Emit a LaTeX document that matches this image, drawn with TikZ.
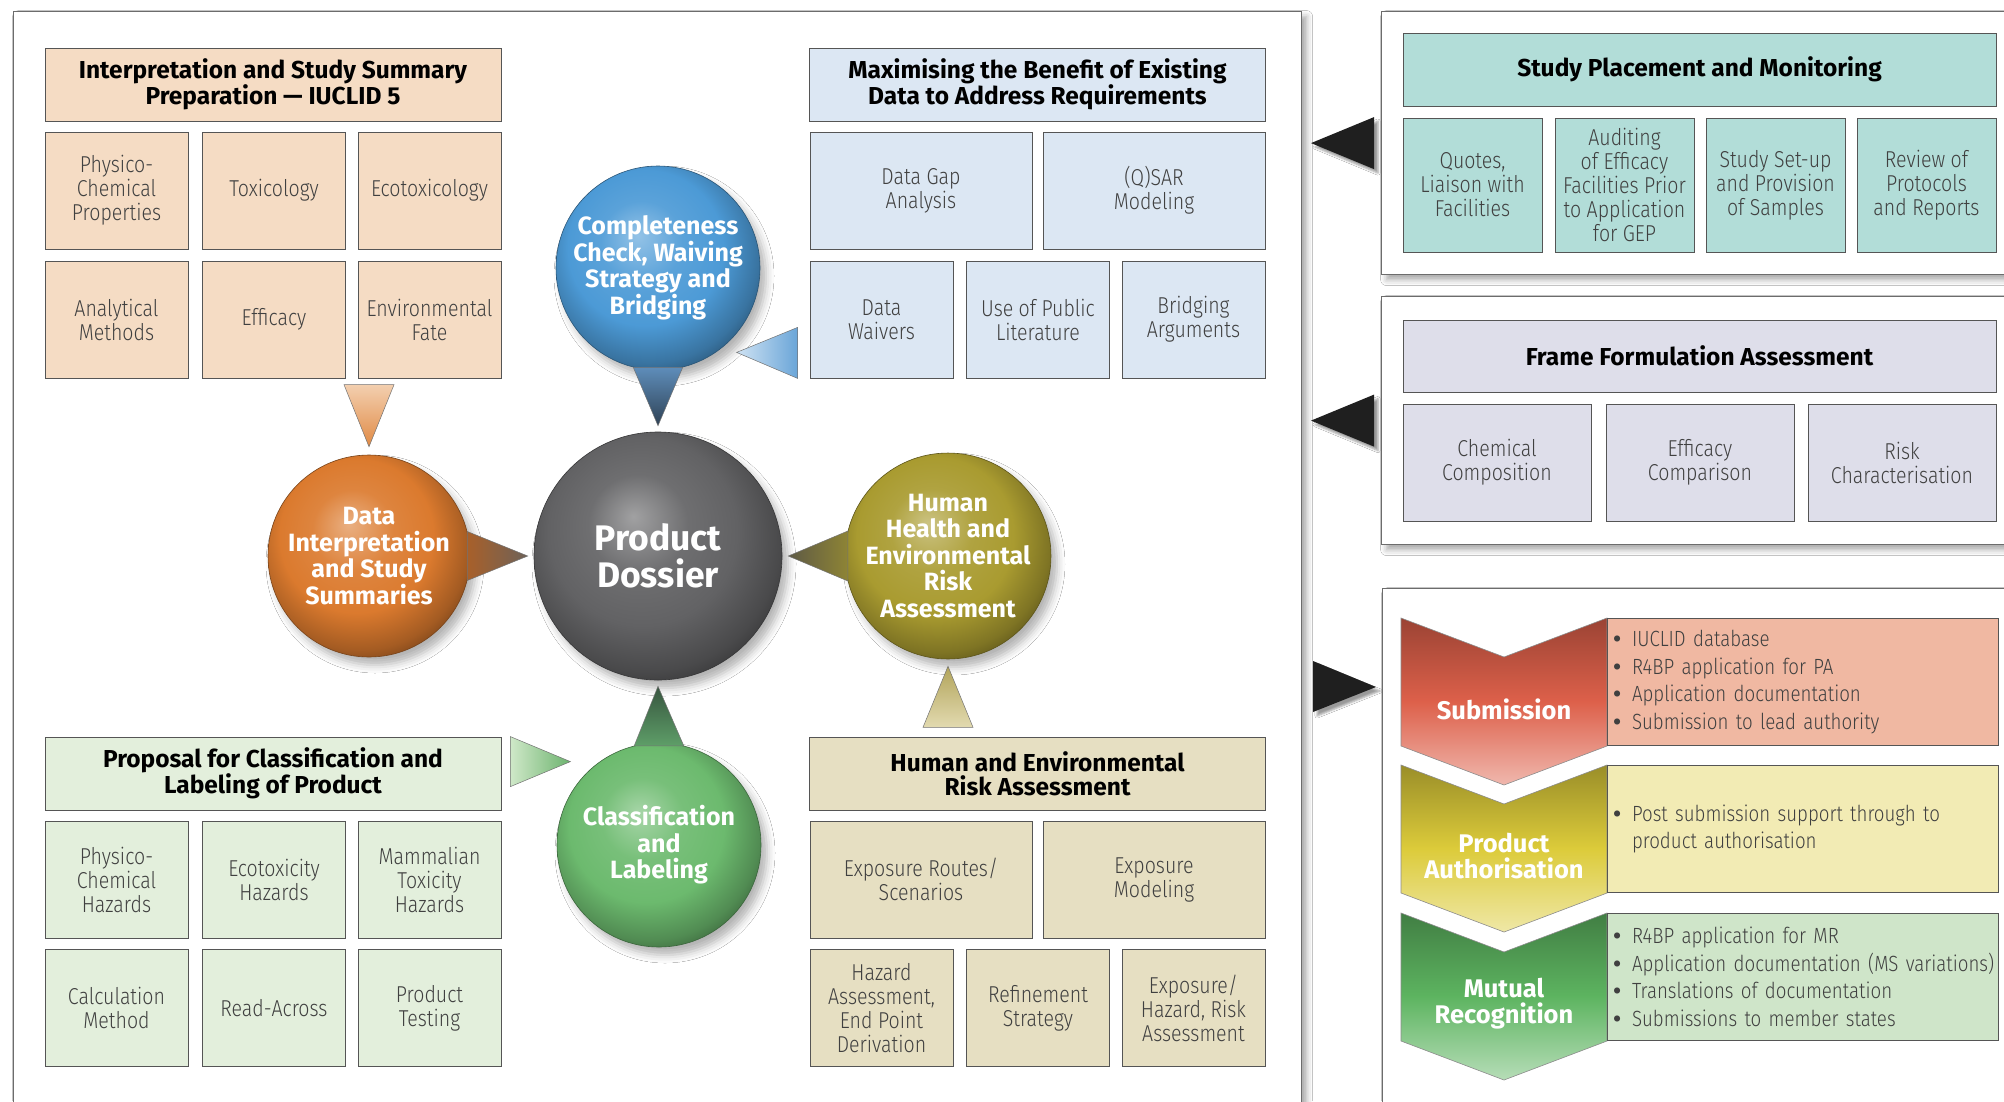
\documentclass[tikz,border=0pt]{standalone}
\usepackage{fontspec}
\setmainfont{Fira Sans}[UprightFont=* Light, BoldFont=* Bold, UprightFeatures={FakeStretch=0.85}]
\usepackage{xcolor}
\definecolor{peach}{HTML}{F5DCC4}
\definecolor{pale-blue}{HTML}{DCE7F3}
\definecolor{pale-green}{HTML}{E3EFDC}
\definecolor{khaki}{HTML}{E6DFC2}
\definecolor{teal-box}{HTML}{B2DDD8}
\definecolor{lavender-box}{HTML}{DEDEEA}
\definecolor{salmon-box}{HTML}{F0B8A2}
\definecolor{cream-box}{HTML}{F2EBB4}
\definecolor{mint-box}{HTML}{CFE5C9}
\definecolor{edge}{HTML}{555555}
\definecolor{ink}{HTML}{404040}
\definecolor{sphere-blue}{HTML}{4C9AD6}
\definecolor{sphere-orange}{HTML}{DB7A2E}
\definecolor{sphere-dark}{HTML}{626264}
\definecolor{sphere-olive}{HTML}{A99B30}
\definecolor{sphere-green}{HTML}{6CBA6E}
\definecolor{chev-red}{HTML}{DD604A}
\definecolor{chev-yellow}{HTML}{DCCB3A}
\definecolor{chev-green}{HTML}{5DB460}
\usetikzlibrary{calc,positioning,shadows.blur}
\makeatletter
\pgfdeclareradialshading[tikz@ball]{orb}{\pgfqpoint{-5bp}{8bp}}{%
    color(0bp)=(tikz@ball!60!white); color(10bp)=(tikz@ball!92!white); color(19bp)=(tikz@ball);
    color(27bp)=(tikz@ball!75!black); color(34bp)=(tikz@ball!40!black); color(50bp)=(black)}
\makeatother
\newcommand\dotitem{{\bfseries\textbullet}\enspace}
\tikzset{
    panel/.style={draw=gray!85!black, line width=1.2pt, fill=white, anchor=north west,
        blur shadow={shadow xshift=5pt, shadow yshift=-5pt, shadow blur radius=6pt, shadow opacity=35}},
    cell/.style={draw=edge, line width=0.8pt, align=center, text=ink, inner sep=1pt,
        font=\fontsize{23}{24}\selectfont},
    head/.style={cell, text=black, font=\bfseries\fontsize{24.5}{24}\selectfont},
    c2/.style={minimum width=222, minimum height=117},
    c3/.style={minimum width=143, minimum height=117},
    c4/.style={minimum width=139, minimum height=134},
    wide/.style={minimum width=456, minimum height=73},
    sphere/.style={circle, inner sep=0pt, draw=#1!55!black, line width=0.6pt, ball color=#1, shading=orb,
        text=white, align=center, font=\bfseries\fontsize{25}{26.5}\selectfont,
        blur shadow={shadow xshift=6pt, shadow yshift=-8pt, shadow blur radius=8pt, shadow opacity=30}},
    wedge/.style={draw=black!55, line width=0.5pt},
    pointer/.style={fill=black!88, blur shadow={shadow xshift=4pt, shadow yshift=-4pt, shadow opacity=40}},
    chevron/.style={draw=black!45, line width=0.6pt},
    chevtext/.style={text=white, align=center, font=\bfseries\fontsize{25.5}{26}\selectfont},
    note/.style={draw=edge, line width=0.8pt, anchor=north west, minimum width=391, minimum height=127,
        text width=379, inner xsep=6, align=left, text=ink, font=\fontsize{22}{27.5}\selectfont}
}

\begin{document}
\begin{tikzpicture}[x=1pt, y=-1pt]
    \useasboundingbox (0,0) rectangle (2004,1101);
    \fill[white] (0,0) rectangle (2004,1101);

    \node[panel, minimum width=1288, minimum height=1200] (board) at (13,11) {};
    \node[panel, minimum width=700, minimum height=263] (place) at (1381,11) {};
    \node[panel, minimum width=700, minimum height=248] (frame) at (1381,296) {};
    \node[panel, minimum width=700, minimum height=600] (route) at (1382,588) {};

    % interpretation group
    \node[head, wide, fill=peach] (interphead) at (273,84.5) {Interpretation and Study Summary\\Preparation — IUCLID 5};
    \node[cell, c3, fill=peach] (physprop) at (116.5,190.5) {Physico-\\Chemical\\Properties};
    \node[cell, c3, fill=peach] (tox) at (274,190.5) {Toxicology};
    \node[cell, c3, fill=peach] (ecotox) at (429.5,190.5) {Ecotoxicology};
    \node[cell, c3, fill=peach] (analytic) at (116.5,319.5) {Analytical\\Methods};
    \node[cell, c3, fill=peach] (efficacy) at (274,319.5) {Efficacy};
    \node[cell, c3, fill=peach] (envfate) at (429.5,319.5) {Environmental\\Fate};

    % existing data group
    \node[head, wide, fill=pale-blue] (datahead) at (1037.5,84.5) {Maximising the Benefit of Existing\\Data to Address Requirements};
    \node[cell, c2, fill=pale-blue] (gap) at (921,190.5) {Data Gap\\Analysis};
    \node[cell, c2, fill=pale-blue] (qsar) at (1154,190.5) {(Q)SAR\\Modeling};
    \node[cell, c3, fill=pale-blue] (waivers) at (881.5,319.5) {Data\\Waivers};
    \node[cell, c3, fill=pale-blue] (publit) at (1038,319.5) {Use of Public\\Literature};
    \node[cell, c3, fill=pale-blue] (bridging) at (1193.5,319.5) {Bridging\\Arguments};

    % classification group
    \node[head, wide, fill=pale-green] (prophead) at (273,773.5) {Proposal for Classification and\\Labeling of Product};
    \node[cell, c3, fill=pale-green] (physhaz) at (116.5,879.5) {Physico-\\Chemical\\Hazards};
    \node[cell, c3, fill=pale-green] (ecohaz) at (274,879.5) {Ecotoxicity\\Hazards};
    \node[cell, c3, fill=pale-green] (mamhaz) at (429.5,879.5) {Mammalian\\Toxicity\\Hazards};
    \node[cell, c3, fill=pale-green] (calc) at (116.5,1008) {Calculation\\Method};
    \node[cell, c3, fill=pale-green] (readacross) at (274,1008) {Read-Across};
    \node[cell, c3, fill=pale-green] (testing) at (429.5,1008) {Product\\Testing};

    % risk group
    \node[head, wide, fill=khaki] (riskhead) at (1037.5,773.5) {Human and Environmental\\Risk Assessment};
    \node[cell, c2, fill=khaki] (routes) at (921,879.5) {Exposure Routes/\\Scenarios};
    \node[cell, c2, fill=khaki] (expmod) at (1154,879.5) {Exposure\\Modeling};
    \node[cell, c3, fill=khaki] (hazard) at (881.5,1008) {Hazard\\Assessment,\\End Point\\Derivation};
    \node[cell, c3, fill=khaki] (refine) at (1038,1008) {Refinement\\Strategy};
    \node[cell, c3, fill=khaki] (exphaz) at (1193.5,1008) {Exposure/\\Hazard, Risk\\Assessment};

    % spheres
    \node[sphere=sphere-blue, minimum size=204] (completeness) at (658,268) {Completeness\\Check, Waiving\\Strategy and\\Bridging};
    \node[sphere=sphere-dark, minimum size=248, font=\bfseries\fontsize{35.5}{37}\selectfont] (dossier) at (658,556) {Product\\Dossier};
    \node[sphere=sphere-orange, minimum size=202] (interp) at (369,556) {Data\\Interpretation\\and Study\\Summaries};
    \node[sphere=sphere-olive, minimum size=204] (risk) at (948,556) {Human\\Health and\\Environmental\\Risk\\Assessment};
    \node[sphere=sphere-green, minimum size=204] (classif) at (659,845) {Classification\\and\\Labeling};

    \path[wedge, top color={rgb,255:red,94;green,141;blue,186}, bottom color={rgb,255:red,47;green,66;blue,85}]
        (completeness.-76) -- (completeness.-104) -- ($(dossier.north)+(0,-6)$) -- cycle;
    \path[wedge, top color={rgb,255:red,55;green,85;blue,63}, bottom color={rgb,255:red,94;green,158;blue,104}]
        (classif.76) -- (classif.104) -- ($(dossier.south)+(0,6)$) -- cycle;
    \path[wedge, left color={rgb,255:red,168;green,96;blue,42}, right color={rgb,255:red,110;green,98;blue,88}]
        (interp.14) -- (interp.-14) -- ($(dossier.west)+(-6,0)$) -- cycle;
    \path[wedge, left color={rgb,255:red,94;green,90;blue,69}, right color={rgb,255:red,142;green,132;blue,53}]
        (risk.166) -- (risk.194) -- ($(dossier.east)+(6,0)$) -- cycle;
    \path[wedge, top color={rgb,255:red,243;green,207;blue,175}, bottom color={rgb,255:red,224;green,138;blue,69}]
        ($(interp.north)+(-25,-70)$) -- ($(interp.north)+(25,-70)$) -- ($(interp.north)+(0,-8)$) -- cycle;
    \path[wedge, top color={rgb,255:red,178;green,164;blue,90}, bottom color={rgb,255:red,226;green,218;blue,176}]
        ($(risk.south)+(-25,68)$) -- ($(risk.south)+(25,68)$) -- ($(risk.south)+(0,7)$) -- cycle;
    \path[wedge, left color={rgb,255:red,207;green,226;blue,243}, right color={rgb,255:red,106;green,165;blue,216}]
        ($(waivers.south west)+(-12,-51)$) -- ($(waivers.south west)+(-12,0)$) -- ($(waivers.south west)+(-73,-26)$) -- cycle;
    \path[wedge, left color={rgb,255:red,207;green,232;blue,200}, right color={rgb,255:red,108;green,179;blue,110}]
        ($(prophead.north east)+(9,0)$) -- ($(prophead.north east)+(9,50)$) -- ($(prophead.north east)+(69,25)$) -- cycle;

    % study placement
    \node[head, fill=teal-box, minimum width=593, minimum height=73] (studyhead) at (1699.5,69.5) {Study Placement and Monitoring};
    \node[cell, c4, fill=teal-box] (quotes) at (1472.5,185) {Quotes,\\Liaison with\\Facilities};
    \node[cell, c4, fill=teal-box] (auditing) at (1624.5,185) {Auditing\\of Efficacy\\Facilities Prior\\to Application\\for GEP};
    \node[cell, c4, fill=teal-box] (setup) at (1775.5,185) {Study Set-up\\and Provision\\of Samples};
    \node[cell, c4, fill=teal-box] (review) at (1926.5,185) {Review of\\Protocols\\and Reports};

    % frame formulation
    \node[head, fill=lavender-box, minimum width=593, minimum height=72] (framehead) at (1699.5,356) {Frame Formulation Assessment};
    \node[cell, fill=lavender-box, minimum width=188, minimum height=117] (chemcomp) at (1497,462.5) {Chemical\\Composition};
    \node[cell, fill=lavender-box, minimum width=188, minimum height=117] (effcomp) at (1700,462.5) {Efficacy\\Comparison};
    \node[cell, fill=lavender-box, minimum width=188, minimum height=117] (riskchar) at (1902,462.5) {Risk\\Characterisation};

    \path[pointer] ($(place.west)+(-70,0)$) -- ($(place.west)+(-7,-26)$) -- ($(place.west)+(-7,26)$) -- cycle;
    \path[pointer] ($(frame.west)+(-70,0)$) -- ($(frame.west)+(-7,-26)$) -- ($(frame.west)+(-7,26)$) -- cycle;
    \path[pointer] ($(route.north west)+(-69,73)$) -- ($(route.north west)+(-69,124)$) -- ($(route.north west)+(-6,99)$) -- cycle;

    % registration route
    \foreach \yt/\col/\nm/\txt in {618/chev-red/submission/Submission, 765/chev-yellow/authorisation/{Product\\Authorisation}, 913/chev-green/recognition/{Mutual\\Recognition}}{
        \path[chevron, top color=\col!70!black, bottom color=\col!45!white, middle color=\col]
            (1401,\yt) -- (1504,\yt+39) -- (1607,\yt) -- (1607,\yt+128) -- (1504,\yt+167) -- (1401,\yt+128) -- cycle;
        \node[chevtext] (\nm) at (1504,\yt+91) {\txt};
    }
    \node[note, fill=salmon-box] (subnote) at (1607,618) {\dotitem IUCLID database\\\dotitem R4BP application for PA\\\dotitem Application documentation\\\dotitem Submission to lead authority};
    \node[note, fill=cream-box] (authnote) at (1607,765) {\dotitem Post submission support through to\\\phantom{\dotitem}product authorisation};
    \node[note, fill=mint-box] (recnote) at (1607,913) {\dotitem R4BP application for MR\\\mbox{\dotitem Application documentation (MS variations)}\\\dotitem Translations of documentation\\\dotitem Submissions to member states};
\end{tikzpicture}
\end{document}
